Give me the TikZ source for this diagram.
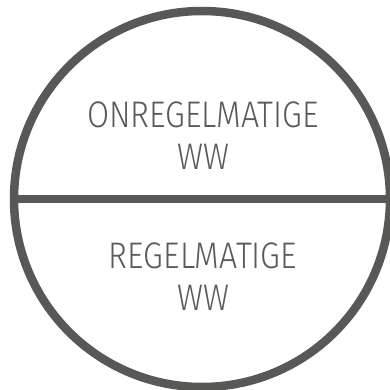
\documentclass[tikz,border=0pt]{standalone}
\usepackage{fontspec}
\setmainfont{Fira Sans}[UprightFont=* Light]
\usepackage{tikz}
\definecolor{ringgrijs}{HTML}{585857}
\definecolor{tekstgrijs}{HTML}{5A5A5A}

\begin{document}
\begin{tikzpicture}[
  x=1pt, y=-1pt,
  ring/.style={draw=ringgrijs, circle, line width=8.5pt, minimum size=376pt, inner sep=0pt},
  deel/.style={draw=ringgrijs, line width=8.5pt},
  lbl/.style={text=tekstgrijs, align=center, inner sep=0pt, xscale=0.865, font={\fontsize{37}{42}\selectfont}}]
  \useasboundingbox (0,0) rectangle (389,390);
  \node[ring] (bol) at (202,199) {};
  \draw[deel] (bol.west) -- (bol.east);
  \node[lbl] (boven) at (203,136) {ONREGELMATIGE\\WW};
  \node[lbl] (onder) at (203,276.5) {REGELMATIGE\\WW};
\end{tikzpicture}
\end{document}
